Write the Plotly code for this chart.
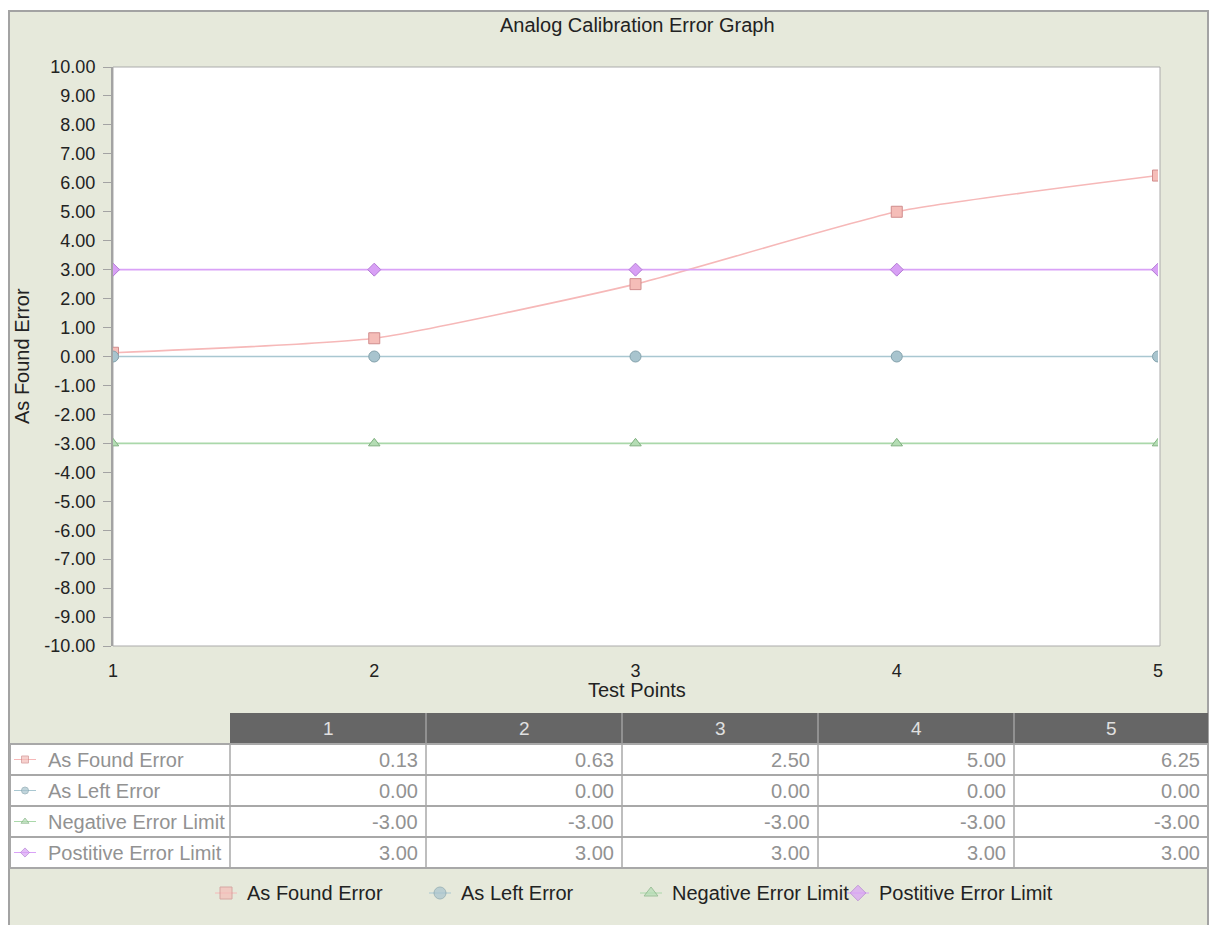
import plotly.graph_objects as go

# ---------------- data ----------------
test_points = [1, 2, 3, 4, 5]
series_names = ["As Found Error", "As Left Error", "Negative Error Limit", "Postitive Error Limit"]
as_found = [0.13, 0.63, 2.50, 5.00, 6.25]
as_left = [0.00, 0.00, 0.00, 0.00, 0.00]
neg_limit = [-3.00, -3.00, -3.00, -3.00, -3.00]
pos_limit = [3.00, 3.00, 3.00, 3.00, 3.00]
y_ticks = list(range(-10, 11))
y_tick_labels = [f"{v:.2f}" for v in y_ticks]
title_text = "Analog Calibration Error Graph"
x_title = "Test Points"
y_title = "As Found Error"

# ---------------- styles ----------------
series_values = [as_found, as_left, neg_limit, pos_limit]
line_colors = ["#F6B8B8", "#A9C7D1", "#AAD8AA", "#D9A2F7"]
marker_fill = ["#F5BDB8", "#A8C4CE", "#B4DDB4", "#D8A0F5"]
marker_edge = ["#D08C8C", "#84A2AC", "#80B080", "#B27AD4"]
symbols = ["square", "circle", "triangle-up", "diamond"]
msizes = [11, 11, 10, 10]
line_shapes = ["spline", "linear", "linear", "linear"]

FONT = "Liberation Sans, Arial, sans-serif"
FS = 20       # general text
FS_TICK = 18  # axis tick labels

# figure is placed at page offset (8, 8) by the html body margin
OFF = 8
FW, FH = 1201, 917


def px(x):
    return (x - OFF) / FW


def py(y):
    return 1 - (y - OFF) / FH


fig = go.Figure()

for i, name in enumerate(series_names):
    fig.add_trace(go.Scatter(
        x=test_points, y=series_values[i], name=name, mode="lines+markers",
        line=dict(color=line_colors[i], width=1.6, shape=line_shapes[i], smoothing=0.5),
        marker=dict(symbol=symbols[i], size=msizes[i], color=marker_fill[i],
                    line=dict(color=marker_edge[i], width=1)),
        xaxis="x", yaxis="y", showlegend=False,
    ))

# plot geometry (page pixels)
PL, PR, PT, PB = 113, 1158, 67, 646
FRAME_R = 1208

shapes = []
# outer frame
shapes.append(dict(type="rect", xref="paper", yref="paper", x0=px(9), x1=px(FRAME_R), y0=py(960), y1=py(11),
                   line=dict(color="#A3A3A3", width=2), fillcolor="#E6E9DB", layer="below"))
# plot white background + frame
shapes.append(dict(type="rect", xref="paper", yref="paper", x0=px(PL), x1=px(PR + 2), y0=py(PB), y1=py(PT),
                   line=dict(color="#ABABAB", width=1), fillcolor="white", layer="below"))

# ---------------- table ----------------
col_edges = [10, 230, 426, 622, 818, 1014, FRAME_R]
row_edges = [713, 744, 775, 806, 837, 868]
annotations = []

shapes.append(dict(type="rect", xref="paper", yref="paper", x0=px(col_edges[1]), x1=px(col_edges[-1]),
                   y0=py(row_edges[1]), y1=py(row_edges[0]), line=dict(width=0), fillcolor="#666666",
                   layer="below"))
for j, tp in enumerate(test_points):
    cx = (col_edges[j + 1] + col_edges[j + 2]) / 2
    annotations.append(dict(x=px(cx), y=py((row_edges[0] + row_edges[1]) / 2), xref="paper", yref="paper",
                            xanchor="center", yanchor="middle", text=str(tp), showarrow=False,
                            font=dict(family=FONT, size=FS - 1, color="#E0E0E0")))
    if j > 0:
        shapes.append(dict(type="line", xref="paper", yref="paper", x0=px(col_edges[j + 1]),
                           x1=px(col_edges[j + 1]), y0=py(row_edges[1]), y1=py(row_edges[0]),
                           line=dict(color="#A0A0A0", width=1.5)))

shapes.append(dict(type="rect", xref="paper", yref="paper", x0=px(col_edges[0]), x1=px(col_edges[-1]),
                   y0=py(row_edges[-1]), y1=py(row_edges[1]), line=dict(color="#A8A8A8", width=2),
                   fillcolor="white", layer="below"))
for r in range(2, len(row_edges) - 1):
    shapes.append(dict(type="line", xref="paper", yref="paper", x0=px(col_edges[0]), x1=px(col_edges[-1]),
                       y0=py(row_edges[r]), y1=py(row_edges[r]), line=dict(color="#A8A8A8", width=2)))
for c in range(1, len(col_edges) - 1):
    shapes.append(dict(type="line", xref="paper", yref="paper", x0=px(col_edges[c]), x1=px(col_edges[c]),
                       y0=py(row_edges[-1]), y1=py(row_edges[1]), line=dict(color="#A8A8A8", width=1.5)))

for i, name in enumerate(series_names):
    yc = (row_edges[i + 1] + row_edges[i + 2]) / 2
    annotations.append(dict(x=px(46), y=py(yc), xref="paper", yref="paper", xanchor="left", yanchor="middle",
                            text=name, showarrow=False, font=dict(family=FONT, size=FS, color="#929292")))
    for j, v in enumerate(series_values[i]):
        annotations.append(dict(x=px(col_edges[j + 2] - 6), y=py(yc), xref="paper", yref="paper",
                                xanchor="right", yanchor="middle", text=f"{v:.2f}", showarrow=False,
                                font=dict(family=FONT, size=FS, color="#929292")))
    # row icon (line + small marker) on the page-pixel overlay axes
    fig.add_trace(go.Scatter(
        x=[14, 25, 36], y=[yc, yc, yc], mode="lines+markers", showlegend=False, hoverinfo="skip",
        line=dict(color=line_colors[i], width=1),
        marker=dict(symbol=symbols[i], size=[0, 7, 0], color=marker_fill[i],
                    line=dict(color=marker_edge[i], width=1)),
        xaxis="x2", yaxis="y2",
    ))

# ---------------- bottom legend ----------------
legend_marker_x = [226, 440, 651, 858]
legend_y = 893
for i, name in enumerate(series_names):
    mx = legend_marker_x[i]
    fig.add_trace(go.Scatter(
        x=[mx - 11, mx, mx + 11], y=[legend_y] * 3, mode="lines+markers", showlegend=False, hoverinfo="skip",
        line=dict(color=line_colors[i], width=1),
        marker=dict(symbol=symbols[i], size=[0, 12, 0], color=marker_fill[i],
                    line=dict(color=marker_edge[i], width=1)),
        xaxis="x2", yaxis="y2",
    ))
    annotations.append(dict(x=px(mx + 19), y=py(legend_y), xref="paper", yref="paper", xanchor="left",
                            yanchor="middle", text=name, showarrow=False,
                            font=dict(family=FONT, size=FS, color="#222222")))

# ---------------- titles ----------------
annotations.append(dict(x=px(637), y=py(25), xref="paper", yref="paper", text=title_text, xanchor="center",
                        yanchor="middle", showarrow=False, font=dict(family=FONT, size=FS, color="#222222")))
annotations.append(dict(x=px(637), y=py(690), xref="paper", yref="paper", text=x_title, xanchor="center",
                        yanchor="middle", showarrow=False, font=dict(family=FONT, size=FS, color="#222222")))
annotations.append(dict(x=px(22), y=py(356), xref="paper", yref="paper", text=y_title, textangle=-90,
                        xanchor="center", yanchor="middle", showarrow=False,
                        font=dict(family=FONT, size=FS, color="#222222")))

fig.update_layout(
    width=FW, height=FH,
    margin=dict(l=0, r=0, t=0, b=0, autoexpand=False),
    paper_bgcolor="white",
    plot_bgcolor="rgba(0,0,0,0)",
    font=dict(family=FONT, size=FS, color="#222222"),
    shapes=shapes,
    annotations=annotations,
    showlegend=False,
    xaxis=dict(domain=[px(PL), px(PR)], range=[1, 5], tickvals=test_points,
               ticktext=[str(t) for t in test_points], showgrid=False, zeroline=False, showline=False,
               ticks="", ticklabelstandoff=12, anchor="y", automargin=False, fixedrange=True,
               tickfont=dict(family=FONT, size=FS_TICK, color="#222222")),
    yaxis=dict(domain=[py(PB), py(PT)], range=[-10, 10], tickvals=y_ticks, ticktext=y_tick_labels,
               showgrid=False, zeroline=False, showline=True, linecolor="#A3A3A3", linewidth=2,
               ticks="outside", ticklen=8, tickwidth=1, tickcolor="#A3A3A3", ticklabelstandoff=4,
               anchor="x", automargin=False, fixedrange=True,
               tickfont=dict(family=FONT, size=FS_TICK, color="#222222")),
    xaxis2=dict(domain=[0, 1], range=[OFF, OFF + FW], visible=False, anchor="y2", fixedrange=True,
                automargin=False),
    yaxis2=dict(domain=[0, 1], range=[OFF + FH, OFF], visible=False, anchor="x2", fixedrange=True,
                automargin=False),
)

fig.write_html("out.html")
